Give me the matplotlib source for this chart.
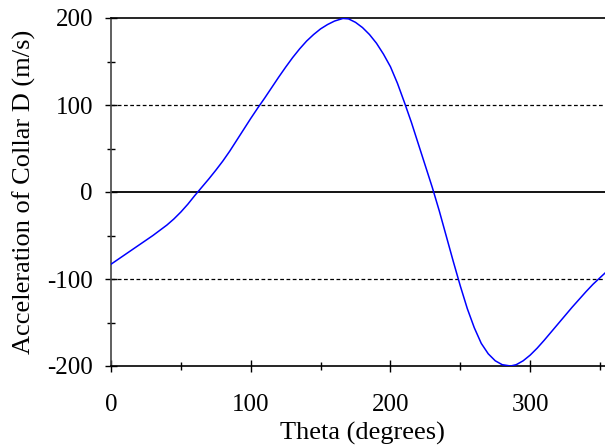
import numpy as np
import matplotlib.pyplot as plt
from matplotlib.ticker import MultipleLocator

plt.rcParams['font.family'] = ['Liberation Serif', 'DejaVu Serif']
plt.rcParams['axes.unicode_minus'] = False

# values, every 5 degrees
theta = list(range(0, 165, 5)) + [166, 170] + list(range(175, 285, 5)) + [286] + list(range(290, 365, 5))
accel = [-83, -77.5, -72, -66.5, -61, -55.5, -50, -44, -38, -31, -23, -14, -4, 5.5,
         15, 25, 35.5, 47, 59.5, 72, 84.5, 96.5, 108, 120, 132, 143.5, 154.5, 164.5,
         173.5, 181, 187.5, 192.5, 196.5,
         199.5, 199,
         195, 189, 181, 171, 158.5, 144, 125, 103, 80, 55, 30, 5, -22, -51, -80, -108,
         -134, -156, -174, -186, -194, -198.5,
         -200,
         -198.5, -194, -187.5, -179.5, -170.5, -161, -151.5, -142, -132.5, -123.5,
         -114.5, -106, -98.5, -91, -84]

fig = plt.figure(figsize=(6.05, 4.46), dpi=100)
W, H = 605, 446
ax = fig.add_axes([111 / W, 80 / H, 503 / W, 348 / H])

ax.plot(theta, accel, color='#0000ff', lw=1.1, zorder=3)

for y in (-100, 100):
    ax.axhline(y, color='black', lw=0.9, ls=(0, (3, 2)), zorder=1)
ax.axhline(0, color='black', lw=1.3, zorder=1)

ax.set_xlim(0, 360)
ax.set_ylim(-200, 200)
ax.xaxis.set_major_locator(MultipleLocator(100))
ax.xaxis.set_minor_locator(MultipleLocator(50))
ax.yaxis.set_major_locator(MultipleLocator(100))
ax.yaxis.set_minor_locator(MultipleLocator(50))
ax.tick_params(which='major', direction='inout', length=9, width=1, labelsize=18)
ax.tick_params(which='minor', direction='inout', length=6, width=1)
ax.tick_params(axis='x', pad=16)
ax.tick_params(axis='y', pad=8.5)

ax.spines['right'].set_visible(False)
ax.spines['left'].set_color('#444444')
for s in ('left', 'bottom', 'top'):
    ax.spines[s].set_linewidth(1.2)

ax.set_xlabel('Theta (degrees)', fontsize=19, labelpad=4)
ax.set_ylabel('Acceleration of Collar D (m/s)', fontsize=19, labelpad=8)

fig.savefig('out.png', dpi=100)
